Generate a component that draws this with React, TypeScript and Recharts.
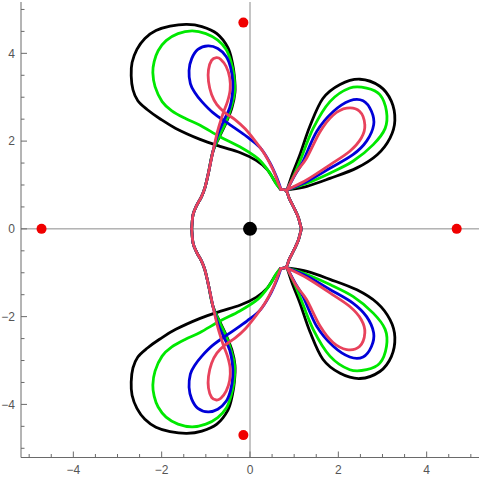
import { ComposedChart, Line, Scatter, XAxis, YAxis, ReferenceLine } from 'recharts';

// tick positions (every 0.5, labels on the even ones)
const axisTicks = [-5, -4.5, -4, -3.5, -3, -2.5, -2, -1.5, -1, -0.5, 0, 0.5, 1, 1.5, 2, 2.5, 3, 3.5, 4, 4.5, 5];
const labeledTicks = [-4, -2, 0, 2, 4];

const redPoints = [
  { x: -4.72, y: 0 },
  { x: 4.68, y: 0 },
  { x: -0.15, y: 4.7 },
  { x: -0.15, y: -4.7 },
];
const originPoint = [{ x: 0, y: 0 }];

// shared right-hand body, from the upper cusp down to the lower cusp
const rightBody = [
  [0.7, 0.9], [0.82, 0.87], [0.89, 0.69], [1.0, 0.47], [1.09, 0.27], [1.14, 0.09], [1.16, 0],
  [1.14, -0.09], [1.09, -0.27], [1.0, -0.47], [0.89, -0.69], [0.82, -0.87], [0.7, -0.9],
];

// black curve
const blackUpperLeft = [
  [-1.32, 0], [-1.29, 0.32], [-1.21, 0.53], [-1.1, 0.73], [-1.02, 0.94], [-0.94, 1.28], [-0.84, 1.76],
  [-0.7, 2.08], [-0.54, 2.42], [-0.41, 2.76], [-0.34, 3.11], [-0.35, 3.45], [-0.4, 3.79], [-0.5, 4.13],
  [-0.75, 4.45], [-1.09, 4.61], [-1.43, 4.66], [-1.81, 4.62], [-2.13, 4.52], [-2.38, 4.34], [-2.56, 4.09],
  [-2.67, 3.79], [-2.69, 3.49], [-2.65, 3.17], [-2.54, 2.92], [-2.33, 2.72], [-2.04, 2.51], [-1.68, 2.29],
  [-1.13, 2.04], [-0.68, 1.88], [-0.23, 1.74], [0.14, 1.56], [0.39, 1.35], [0.57, 1.07], [0.69, 0.9],
];
const blackLowerLeft = [
  [-1.32, 0], [-1.29, -0.32], [-1.21, -0.53], [-1.1, -0.73], [-1.02, -0.94], [-0.94, -1.28], [-0.84, -1.76],
  [-0.7, -2.08], [-0.54, -2.42], [-0.41, -2.76], [-0.34, -3.11], [-0.35, -3.45], [-0.4, -3.79], [-0.5, -4.13],
  [-0.75, -4.45], [-1.09, -4.61], [-1.43, -4.66], [-1.81, -4.62], [-2.13, -4.52], [-2.38, -4.34], [-2.56, -4.09],
  [-2.67, -3.79], [-2.69, -3.49], [-2.65, -3.17], [-2.54, -2.92], [-2.33, -2.72], [-2.04, -2.51], [-1.68, -2.29],
  [-1.13, -2.04], [-0.68, -1.88], [-0.23, -1.74], [0.14, -1.56], [0.39, -1.35], [0.57, -1.07], [0.69, -0.9],
];
const blackUpperLobe = [
  [0.84, 0.89], [0.97, 1.28], [1.13, 1.69], [1.36, 2.35], [1.65, 2.97], [2.04, 3.29], [2.49, 3.41], [2.94, 3.25],
  [3.2, 2.91], [3.28, 2.47], [3.17, 2.07], [2.88, 1.69], [2.42, 1.39], [1.81, 1.15], [1.29, 0.97], [0.84, 0.89],
];
const blackLowerLobe = [
  [0.84, -0.89], [0.97, -1.28], [1.13, -1.69], [1.36, -2.35], [1.65, -2.97], [2.04, -3.29], [2.49, -3.41], [2.94, -3.25],
  [3.2, -2.91], [3.28, -2.47], [3.17, -2.07], [2.88, -1.69], [2.42, -1.39], [1.81, -1.15], [1.29, -0.97], [0.84, -0.89],
];

// green curve
const greenUpperLeft = [
  [-1.32, 0], [-1.29, 0.32], [-1.21, 0.53], [-1.1, 0.73], [-1.02, 0.94], [-0.94, 1.28], [-0.84, 1.76],
  [-0.7, 2.1], [-0.54, 2.44], [-0.42, 2.79], [-0.35, 3.11], [-0.36, 3.47], [-0.43, 3.81], [-0.54, 4.09],
  [-0.73, 4.3], [-1.0, 4.45], [-1.31, 4.51], [-1.63, 4.45], [-1.9, 4.29], [-2.08, 4.06], [-2.17, 3.81],
  [-2.2, 3.56], [-2.15, 3.24], [-1.99, 2.9], [-1.77, 2.69], [-1.45, 2.51], [-1.13, 2.36], [-0.68, 2.1],
  [-0.23, 1.87], [0.18, 1.6], [0.43, 1.3], [0.59, 1.03], [0.7, 0.9],
];
const greenLowerLeft = [
  [-1.32, 0], [-1.29, -0.32], [-1.21, -0.53], [-1.1, -0.73], [-1.02, -0.94], [-0.94, -1.28], [-0.84, -1.76],
  [-0.7, -2.1], [-0.54, -2.44], [-0.42, -2.79], [-0.35, -3.11], [-0.36, -3.47], [-0.43, -3.81], [-0.54, -4.09],
  [-0.73, -4.3], [-1.0, -4.45], [-1.31, -4.51], [-1.63, -4.45], [-1.9, -4.29], [-2.08, -4.06], [-2.17, -3.81],
  [-2.2, -3.56], [-2.15, -3.24], [-1.99, -2.9], [-1.77, -2.69], [-1.45, -2.51], [-1.13, -2.36], [-0.68, -2.1],
  [-0.23, -1.87], [0.18, -1.6], [0.43, -1.3], [0.59, -1.03], [0.7, -0.9],
];
const greenUpperLobe = [
  [0.84, 0.89], [1.0, 1.23], [1.13, 1.54], [1.43, 2.29], [1.81, 2.9], [2.26, 3.21], [2.64, 3.21], [2.94, 3.06],
  [3.09, 2.68], [3.06, 2.29], [2.79, 1.92], [2.33, 1.54], [1.81, 1.27], [1.29, 1.04], [0.84, 0.89],
];
const greenLowerLobe = [
  [0.84, -0.89], [1.0, -1.23], [1.13, -1.54], [1.43, -2.29], [1.81, -2.9], [2.26, -3.21], [2.64, -3.21], [2.94, -3.06],
  [3.09, -2.68], [3.06, -2.29], [2.79, -1.92], [2.33, -1.54], [1.81, -1.27], [1.29, -1.04], [0.84, -0.89],
];

// blue curve
const blueUpperLeft = [
  [-1.32, 0], [-1.29, 0.32], [-1.21, 0.53], [-1.1, 0.73], [-1.02, 0.94], [-0.94, 1.28], [-0.84, 1.76],
  [-0.73, 2.15], [-0.59, 2.47], [-0.46, 2.76], [-0.4, 3.06], [-0.39, 3.36], [-0.44, 3.68], [-0.54, 3.93],
  [-0.73, 4.11], [-0.95, 4.17], [-1.18, 4.09], [-1.32, 3.88], [-1.38, 3.61], [-1.35, 3.31], [-1.25, 3.11],
  [-1.09, 2.9], [-0.84, 2.65], [-0.45, 2.37], [-0.07, 2.1], [0.23, 1.85], [0.45, 1.51], [0.61, 1.16], [0.7, 0.9],
];
const blueLowerLeft = [
  [-1.32, 0], [-1.29, -0.32], [-1.21, -0.53], [-1.1, -0.73], [-1.02, -0.94], [-0.94, -1.28], [-0.84, -1.76],
  [-0.73, -2.15], [-0.59, -2.47], [-0.46, -2.76], [-0.4, -3.06], [-0.39, -3.36], [-0.44, -3.68], [-0.54, -3.93],
  [-0.73, -4.11], [-0.95, -4.17], [-1.18, -4.09], [-1.32, -3.88], [-1.38, -3.61], [-1.35, -3.31], [-1.25, -3.11],
  [-1.09, -2.9], [-0.84, -2.65], [-0.45, -2.37], [-0.07, -2.1], [0.23, -1.85], [0.45, -1.51], [0.61, -1.16], [0.7, -0.9],
];
const blueUpperLobe = [
  [0.84, 0.89], [1.02, 1.23], [1.2, 1.54], [1.51, 2.22], [1.88, 2.67], [2.26, 2.92], [2.56, 2.92],
  [2.75, 2.68], [2.8, 2.37], [2.64, 2.0], [2.33, 1.69], [1.81, 1.38], [1.29, 1.08], [0.84, 0.89],
];
const blueLowerLobe = [
  [0.84, -0.89], [1.02, -1.23], [1.2, -1.54], [1.51, -2.22], [1.88, -2.67], [2.26, -2.92], [2.56, -2.92],
  [2.75, -2.68], [2.8, -2.37], [2.64, -2.0], [2.33, -1.69], [1.81, -1.38], [1.29, -1.08], [0.84, -0.89],
];

// pink curve
const pinkUpperLeft = [
  [-1.32, 0], [-1.29, 0.32], [-1.21, 0.53], [-1.1, 0.73], [-1.02, 0.94], [-0.94, 1.28], [-0.84, 1.76],
  [-0.73, 2.24], [-0.61, 2.63], [-0.51, 2.9], [-0.45, 3.17], [-0.46, 3.45], [-0.54, 3.7], [-0.66, 3.86],
  [-0.76, 3.9], [-0.87, 3.84], [-0.94, 3.63], [-0.94, 3.36], [-0.87, 3.06], [-0.75, 2.83], [-0.57, 2.65],
  [-0.34, 2.49], [-0.11, 2.28], [0.11, 2.01], [0.34, 1.69], [0.52, 1.35], [0.63, 1.07], [0.7, 0.9],
];
const pinkLowerLeft = [
  [-1.32, 0], [-1.29, -0.32], [-1.21, -0.53], [-1.1, -0.73], [-1.02, -0.94], [-0.94, -1.28], [-0.84, -1.76],
  [-0.73, -2.24], [-0.61, -2.63], [-0.51, -2.9], [-0.45, -3.17], [-0.46, -3.45], [-0.54, -3.7], [-0.66, -3.86],
  [-0.76, -3.9], [-0.87, -3.84], [-0.94, -3.63], [-0.94, -3.36], [-0.87, -3.06], [-0.75, -2.83], [-0.57, -2.65],
  [-0.34, -2.49], [-0.11, -2.28], [0.11, -2.01], [0.34, -1.69], [0.52, -1.35], [0.63, -1.07], [0.7, -0.9],
];
const pinkUpperLobe = [
  [0.84, 0.89], [1.04, 1.28], [1.28, 1.61], [1.59, 2.22], [1.88, 2.59], [2.19, 2.75], [2.48, 2.68],
  [2.6, 2.37], [2.52, 2.07], [2.26, 1.77], [1.81, 1.46], [1.29, 1.12], [0.84, 0.89],
];
const pinkLowerLobe = [
  [0.84, -0.89], [1.04, -1.28], [1.28, -1.61], [1.59, -2.22], [1.88, -2.59], [2.19, -2.75], [2.48, -2.68],
  [2.6, -2.37], [2.52, -2.07], [2.26, -1.77], [1.81, -1.46], [1.29, -1.12], [0.84, -0.89],
];

const curves = [
  { name: 'black', color: '#000000', parts: [blackUpperLeft, blackLowerLeft, blackUpperLobe, blackLowerLobe, rightBody] },
  { name: 'green', color: '#00e800', parts: [greenUpperLeft, greenLowerLeft, greenUpperLobe, greenLowerLobe, rightBody] },
  { name: 'blue', color: '#0000d8', parts: [blueUpperLeft, blueLowerLeft, blueUpperLobe, blueLowerLobe, rightBody] },
  { name: 'pink', color: '#e8425c', parts: [pinkUpperLeft, pinkLowerLeft, pinkUpperLobe, pinkLowerLobe, rightBody] },
];

const toPoints = (a: number[][]) => a.map(([x, y]) => ({ x, y }));

// Catmull-Rom curve through the points (handed to Line as a d3 curve factory)
const catmullRom = (context: any) => {
  let pts: number[][] = [];
  return {
    areaStart() {},
    areaEnd() {},
    lineStart() {
      pts = [];
    },
    point(x: number, y: number) {
      pts.push([x, y]);
    },
    lineEnd() {
      const n = pts.length;
      if (!n) return;
      context.moveTo(pts[0][0], pts[0][1]);
      for (let i = 0; i < n - 1; i++) {
        const p0 = pts[Math.max(i - 1, 0)];
        const p1 = pts[i];
        const p2 = pts[i + 1];
        const p3 = pts[Math.min(i + 2, n - 1)];
        context.bezierCurveTo(
          p1[0] + (p2[0] - p0[0]) / 6, p1[1] + (p2[1] - p0[1]) / 6,
          p2[0] - (p3[0] - p1[0]) / 6, p2[1] - (p3[1] - p1[1]) / 6,
          p2[0], p2[1]
        );
      }
    },
  };
};

const FRAME = '#6a6a6a';
const LABEL = '#555555';
const FONT = '"Liberation Sans", Arial, sans-serif';
const fmt = (v: number) => (v < 0 ? `\u2212${-v}` : `${v}`);
const isMajor = (v: number) => labeledTicks.includes(v);
const len = (v: number) => (isMajor(v) ? 6 : 3.5);

function BottomTick({ x, y, payload }: any) {
  const v = payload.value;
  return (
    <g>
      <line x1={x} x2={x} y1={y} y2={y - len(v)} stroke={FRAME} />
      {isMajor(v) && (
        <text x={x} y={y + 16} textAnchor="middle" fill={LABEL} fontSize={12} fontFamily={FONT}>{fmt(v)}</text>
      )}
    </g>
  );
}

function TopTick({ x, y, payload }: any) {
  return <line x1={x} x2={x} y1={y} y2={y + len(payload.value)} stroke={FRAME} />;
}

function LeftTick({ x, y, payload }: any) {
  const v = payload.value;
  return (
    <g>
      <line x1={x} x2={x + len(v)} y1={y} y2={y} stroke={FRAME} />
      {isMajor(v) && (
        <text x={x - 6} y={y + 4.3} textAnchor="end" fill={LABEL} fontSize={12} fontFamily={FONT}>{fmt(v)}</text>
      )}
    </g>
  );
}

function RightTick({ x, y, payload }: any) {
  return <line x1={x} x2={x - len(payload.value)} y1={y} y2={y} stroke={FRAME} />;
}

export default function App() {
  const xDomain = [-5.185, 5.185];
  const yDomain = [-5.21, 5.17];
  return (
    <div style={{ position: 'absolute', left: 0, top: 0, background: '#fff' }}>
      <ComposedChart width={480} height={477} margin={{ top: 2, right: 1, bottom: 0, left: 0 }}>
        <XAxis
          type="number" dataKey="x" domain={xDomain} allowDataOverflow ticks={axisTicks} interval={0}
          height={19.5} tickSize={0} tickMargin={0} tickLine={false} tick={<BottomTick />}
          axisLine={{ stroke: FRAME }}
        />
        <XAxis
          xAxisId="top" orientation="top" type="number" dataKey="x" domain={xDomain} allowDataOverflow
          ticks={axisTicks} interval={0} height={0} tickSize={0} tickMargin={0} tickLine={false}
          tick={<TopTick />} axisLine={{ stroke: FRAME }}
        />
        <YAxis
          type="number" dataKey="y" domain={yDomain} allowDataOverflow ticks={axisTicks} interval={0}
          width={21} tickSize={0} tickMargin={0} tickLine={false} tick={<LeftTick />}
          axisLine={{ stroke: FRAME }}
        />
        <YAxis
          yAxisId="right" orientation="right" type="number" dataKey="y" domain={yDomain} allowDataOverflow
          ticks={axisTicks} interval={0} width={0} tickSize={0} tickMargin={0} tickLine={false}
          tick={<RightTick />} axisLine={{ stroke: FRAME }}
        />
        <ReferenceLine x={0} stroke="#8a8a8a" strokeWidth={1} />
        <ReferenceLine y={0} stroke="#8a8a8a" strokeWidth={1} />
        {curves.map((c) =>
          c.parts.map((part, i) => (
            <Line
              key={`${c.name}-${i}`}
              data={toPoints(part)}
              dataKey="y"
              type={catmullRom as any}
              stroke={c.color}
              strokeWidth={2.8}
              strokeLinecap="round"
              strokeLinejoin="round"
              dot={false}
              activeDot={false}
              isAnimationActive={false}
            />
          ))
        )}
        <Scatter
          data={redPoints}
          dataKey="y"
          isAnimationActive={false}
          shape={(p: any) => <circle cx={p.cx} cy={p.cy} r={5} fill="#f00000" />}
        />
        <Scatter
          data={originPoint}
          dataKey="y"
          isAnimationActive={false}
          shape={(p: any) => <circle cx={p.cx} cy={p.cy} r={7} fill="#000" />}
        />
      </ComposedChart>
    </div>
  );
}
